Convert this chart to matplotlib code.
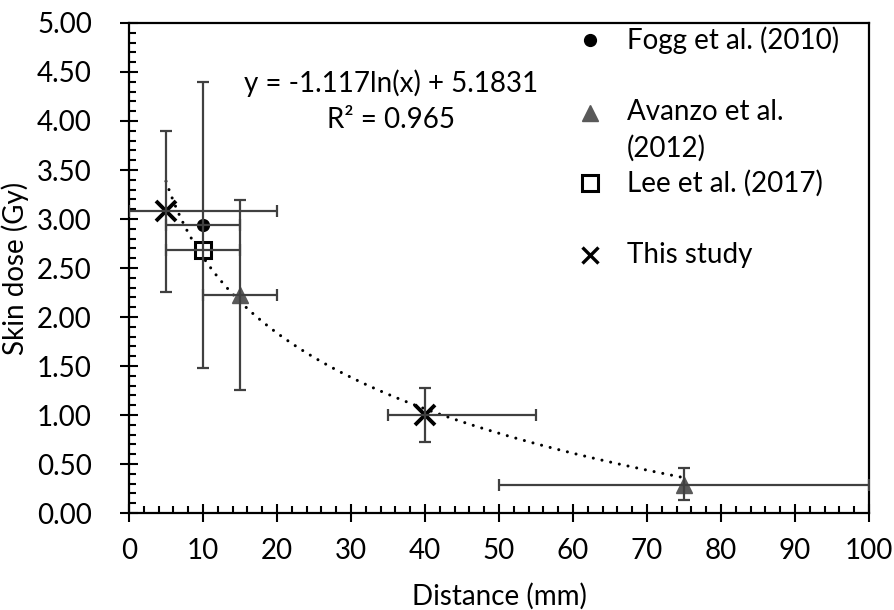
import matplotlib
matplotlib.use("Agg")
import matplotlib.pyplot as plt
import numpy as np

plt.rcParams['font.family'] = ['Lato', 'DejaVu Sans']

# Fogg et al. (2010)
fogg_x = [10]
fogg_y = [2.94]
fogg_xerr = [5]
fogg_yerr = [[1.46], [1.46]]

# Avanzo et al. (2012)
avanzo_x = [15, 75]
avanzo_y = [2.22, 0.29]
avanzo_xerr = [5, 25]
avanzo_yerr = [[0.96, 0.16], [0.97, 0.17]]

# Lee et al. (2017)
lee_x = [10]
lee_y = [2.68]
lee_xerr = [5]

# This study
study_x = [5, 40]
study_y = [3.08, 1.00]
study_xerr = [[5, 5], [15, 15]]
study_yerr = [[0.82, 0.28], [0.82, 0.28]]

# logarithmic trendline y = a ln(x) + b
fit_a = -1.117
fit_b = 5.1831
fit_r2 = 0.965
fit_range = (5, 75)

bar_col = '#404040'
tri_col = '#595959'
fs = 20

fig = plt.figure(figsize=(8.94, 6.10), dpi=100)
ax = fig.add_axes([0.1443, 0.159, 0.8277, 0.8033])

# trendline
xx = np.linspace(fit_range[0], fit_range[1], 300)
ax.plot(xx, fit_a * np.log(xx) + fit_b, color='black', lw=2.2,
        linestyle=(0, (0.01, 2.9)), dash_capstyle='round', zorder=2)

# markers
fogg_style = dict(marker='o', color='black', ms=8.5, linestyle='none')
avanzo_style = dict(marker='^', color=tri_col, ms=12, linestyle='none')
lee_style = dict(marker='s', mfc='white', mec='black', ms=11, mew=2.2, linestyle='none')
study_style = dict(marker='x', color='black', ms=14, mew=2.8, linestyle='none')

ax.plot(fogg_x, fogg_y, zorder=3, **fogg_style)
ax.plot(avanzo_x, avanzo_y, zorder=3, **avanzo_style)
ax.plot(lee_x, lee_y, zorder=3, **lee_style)
ax.plot(study_x, study_y, zorder=3, **study_style)

# error bars drawn over the markers
eb = dict(fmt='none', ecolor=bar_col, elinewidth=1.6, capsize=4, capthick=1.6, zorder=4)
ax.errorbar(fogg_x, fogg_y, xerr=fogg_xerr, yerr=fogg_yerr, **eb)
ax.errorbar(avanzo_x, avanzo_y, xerr=avanzo_xerr, yerr=avanzo_yerr, **eb)
ax.errorbar(lee_x, lee_y, xerr=lee_xerr, **eb)
ax.errorbar(study_x, study_y, xerr=study_xerr, yerr=study_yerr, **eb)

ax.set_xlim(0, 100)
ax.set_ylim(0, 5)
ax.set_xticks(np.arange(0, 101, 10))
ax.set_yticks(np.arange(0, 5.01, 0.5))
ax.set_xticks(np.arange(0, 101, 2), minor=True)
ax.set_yticks(np.arange(0, 5.01, 0.1), minor=True)
ax.set_yticklabels([f"{v:.2f}" for v in np.arange(0, 5.01, 0.5)])
ax.tick_params(which='major', direction='inout', length=13.5, width=1.5,
               labelsize=fs)
ax.tick_params(axis='x', which='major', pad=11)
ax.tick_params(axis='y', which='major', pad=20)
ax.tick_params(which='minor', direction='in', length=5, width=1.5)
for s in ax.spines.values():
    s.set_linewidth(1.6)

ax.set_xlabel('Distance (mm)', fontsize=fs, labelpad=14)
ax.set_ylabel('Skin dose (Gy)', fontsize=fs, labelpad=6)

ax.text(35.4, 4.20, f"y = {fit_a}ln(x) + {fit_b}\nR² = {fit_r2}",
        ha='center', va='center', multialignment='center', fontsize=fs,
        linespacing=1.5)

# legend, laid out by hand in axes fractions (Excel style, wrapped entry)
leg_rows = [0.965, 0.816, 0.673, 0.526]
leg_styles = [fogg_style, avanzo_style, lee_style,
              dict(study_style, ms=12, mew=2.4)]
leg_labels = ['Fogg et al. (2010)', 'Avanzo et al.\n(2012)',
              'Lee et al. (2017)', 'This study']
for yy, st, lab in zip(leg_rows, leg_styles, leg_labels):
    ax.plot([0.623], [yy], transform=ax.transAxes, clip_on=False, **st)
    ax.text(0.673, yy + 0.028, lab, transform=ax.transAxes, fontsize=fs,
            ha='left', va='top', linespacing=1.45)

fig.savefig('out.png', dpi=100)
